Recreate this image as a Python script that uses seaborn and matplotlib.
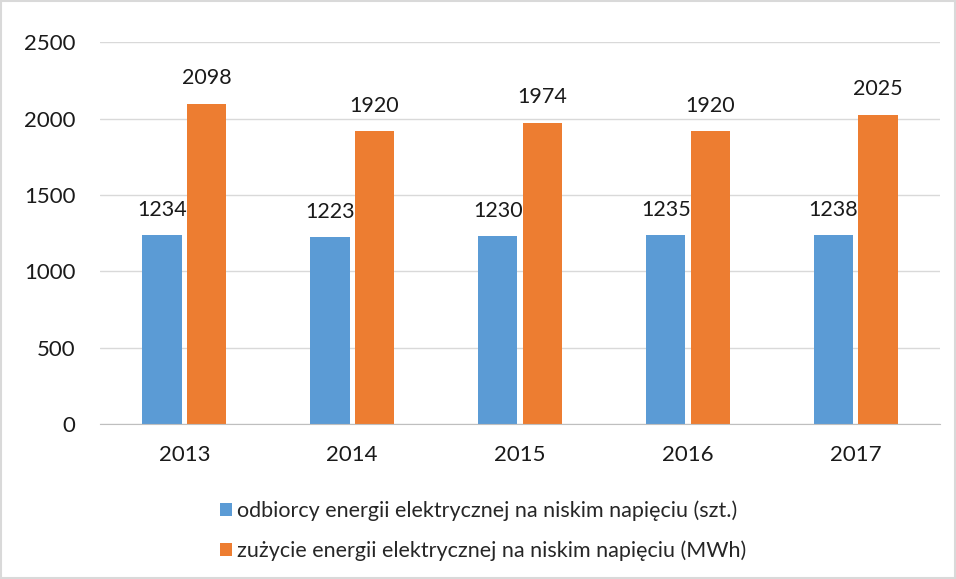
import seaborn as sns
import matplotlib.pyplot as plt
import pandas as pd
from matplotlib.patches import Rectangle

years = ['2013', '2014', '2015', '2016', '2017']
odbiorcy = [1234, 1223, 1230, 1235, 1238]
zuzycie = [2098, 1920, 1974, 1920, 2025]
series_names = ['odbiorcy energii elektrycznej na niskim napięciu (szt.)',
                'zużycie energii elektrycznej na niskim napięciu (MWh)']

df = pd.DataFrame({
    'rok': years * 2,
    'wartosc': odbiorcy + zuzycie,
    'seria': [series_names[0]] * 5 + [series_names[1]] * 5,
})

sns.set_style('white')
plt.rcParams['font.family'] = ['Lato', 'DejaVu Sans']

fig = plt.figure(figsize=(9.56, 5.79), dpi=100)
ax = fig.add_axes([0.105, 0.268, 0.878, 0.659])

sns.barplot(data=df, x='rok', y='wartosc', hue='seria',
            palette=['#5B9BD5', '#ED7D31'], width=0.53, gap=0.12,
            saturation=1, linewidth=0, ax=ax)

for c in ax.containers:
    ax.bar_label(c, padding=11, fontsize=15.5, color='#1a1a1a')

ax.set_ylim(0, 2500)
ax.set_xlim(-0.5, 4.5)
ax.set_yticks(range(0, 2501, 500))
ax.yaxis.grid(True, color='#D9D9D9', linewidth=1)
ax.set_axisbelow(True)
ax.set_xlabel('')
ax.set_ylabel('')
for s in ['left', 'right', 'top']:
    ax.spines[s].set_visible(False)
ax.spines['bottom'].set_color('#BFBFBF')
ax.tick_params(axis='both', labelsize=16, colors='#1a1a1a', length=0)
ax.tick_params(axis='y', pad=18)
ax.tick_params(axis='x', pad=15)

ax.legend(loc='upper left', bbox_to_anchor=(0.12, -0.15), frameon=False,
          fontsize=15.5, handlelength=0.55, handleheight=0.55, handletextpad=0.2,
          labelspacing=0.9, ncol=1)

fig.patches.append(Rectangle((0.001, 0.001), 0.998, 0.998, transform=fig.transFigure,
                             fill=False, edgecolor='#D9D9D9', linewidth=1.5))

fig.savefig('out.png', dpi=100)
